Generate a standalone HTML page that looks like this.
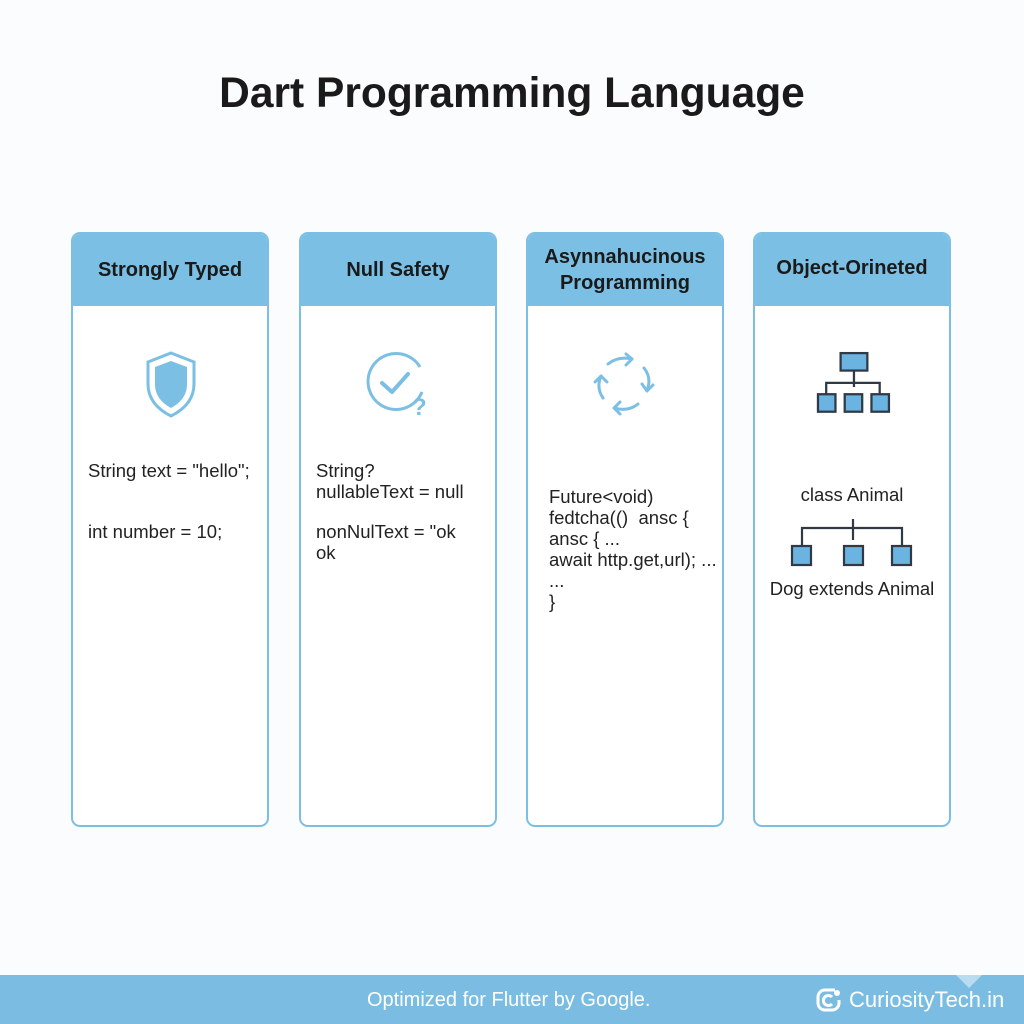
<!DOCTYPE html>
<html><head><meta charset="utf-8"><style>
*{margin:0;padding:0;box-sizing:border-box}
body{width:1024px;height:1024px;background:#fbfcfd;position:relative;overflow:hidden;font-family:"Liberation Sans",sans-serif;color:#1c1c1c}
.t{position:absolute;white-space:nowrap}
.card{position:absolute;top:232px;width:198px;height:595px;border:2px solid #7dbfe4;border-radius:9px;background:#fff;overflow:hidden}
.hd{height:72px;background:#7cbfe4;display:flex;align-items:center;justify-content:center;text-align:center;font-weight:bold;font-size:20px;line-height:26px;color:#1a1a1a}
.body{position:absolute;font-size:18.5px;line-height:21px;color:#222;white-space:nowrap}
</style></head><body>
<div class="t" style="left:0;width:1024px;text-align:center;top:70px;font-size:42.5px;font-weight:bold;color:#1a1a1a">Dart Programming Language</div>

<div class="card" style="left:71px"><div class="hd">Strongly Typed</div>
<svg style="position:absolute;left:70px;top:116px" width="56" height="70" viewBox="0 0 56 70"><path d="M28 3 L51 12 L51 34 C51 50 40 60 28 66 C16 60 5 50 5 34 L5 12 Z" fill="none" stroke="#7cbfe4" stroke-width="3"/><path d="M28 11 L44 17 L44 34 C44 46 37 53 28 58 C19 53 12 46 12 34 L12 17 Z" fill="#7cbfe4"/></svg>
<div class="body" style="left:15px;top:226px">String text = "hello";</div>
<div class="body" style="left:15px;top:287px">int number = 10;</div>
</div>

<div class="card" style="left:299px"><div class="hd">Null Safety</div>
<svg style="position:absolute;left:64px;top:116px" width="72" height="72" viewBox="0 0 72 72"><path d="M57 42 A28 28 0 1 1 55 17" fill="none" stroke="#7cbfe4" stroke-width="3"/><path d="M17 33 L27 42 L43 24" fill="none" stroke="#7cbfe4" stroke-width="4" stroke-linecap="round" stroke-linejoin="round"/><text x="47" y="65" font-family="Liberation Sans" font-weight="bold" font-size="24" fill="#7cbfe4">?</text></svg>
<div class="body" style="left:15px;top:226px">String?<br>nullableText = null</div>
<div class="body" style="left:15px;top:287px">nonNulText = "ok<br>ok</div>
</div>

<div class="card" style="left:526px"><div class="hd">Asynnahucinous<br>Programming</div>
<svg style="position:absolute;left:62px;top:116px" width="70" height="70" viewBox="0 0 70 70" fill="none" stroke="#7cbfe4" stroke-width="3" stroke-linecap="round" stroke-linejoin="round"><path d="M18 14 Q28 6 42 9"/><path d="M36 4 L42 9 L36 15"/><path d="M54 18 Q62 28 57 40"/><path d="M52 34 L57 41 L63 35"/><path d="M48 54 Q38 62 24 58"/><path d="M30 52 L24 58 L30 64"/><path d="M13 48 Q6 38 11 26"/><path d="M5 32 L11 26 L17 32"/></svg>
<div class="body" style="left:21px;top:252px">Future&lt;void)<br>fedtcha(()&nbsp; ansc {<br>ansc { ...<br>await http.get,url); ...<br>...<br>}</div>
</div>

<div class="card" style="left:753px"><div class="hd" style="padding-bottom:4px">Object-Orineted</div>
<svg style="position:absolute;left:58px;top:116px" width="84" height="72" viewBox="0 0 80 70" stroke="#2f3a44" stroke-width="2.2" fill="none"><rect x="26" y="3" width="26" height="17" fill="#6bb3e0"/><path d="M39 20 V36 M12 43 V32 H64 V43"/><rect x="4" y="43" width="17" height="17" fill="#6bb3e0"/><rect x="30" y="43" width="17" height="17" fill="#6bb3e0"/><rect x="56" y="43" width="17" height="17" fill="#6bb3e0"/></svg>
<div class="body" style="left:0;width:194px;text-align:center;top:250px">class Animal</div>
<svg style="position:absolute;left:34px;top:284px" width="130" height="52" viewBox="0 0 130 52" stroke="#2f3a44" stroke-width="2.2" fill="none"><path d="M64 1 V22 M13 28 V10 H113 V28"/><rect x="3" y="28" width="19" height="19" fill="#6bb3e0"/><rect x="55" y="28" width="19" height="19" fill="#6bb3e0"/><rect x="103" y="28" width="19" height="19" fill="#6bb3e0"/></svg>
<div class="body" style="left:0;width:194px;text-align:center;top:344px">Dog extends Animal</div>
</div>

<div style="position:absolute;left:0;top:975px;width:1024px;height:49px;background:#7bbde2"></div>
<svg style="position:absolute;left:956px;top:975px" width="26" height="14"><path d="M0 0 L26 0 L13 13 Z" fill="#b9dcf0"/></svg>
<div class="t" style="left:367px;top:989px;font-size:20px;color:#fff">Optimized for Flutter by Google.</div>
<svg style="position:absolute;left:815px;top:986px" width="28" height="28" viewBox="0 0 28 28" fill="none" stroke="#fff" stroke-width="3"><path d="M20 4 H10 A7 7 0 0 0 3 11 V17 A7 7 0 0 0 10 24 H17 A7 7 0 0 0 24 17 V14"/><path d="M17 11 A5 5 0 1 0 17 18"/><circle cx="22" cy="7" r="3" fill="#fff" stroke="none"/></svg>
<div class="t" style="left:849px;top:987px;font-size:22px;color:#fff">CuriosityTech.in</div>
</body></html>
